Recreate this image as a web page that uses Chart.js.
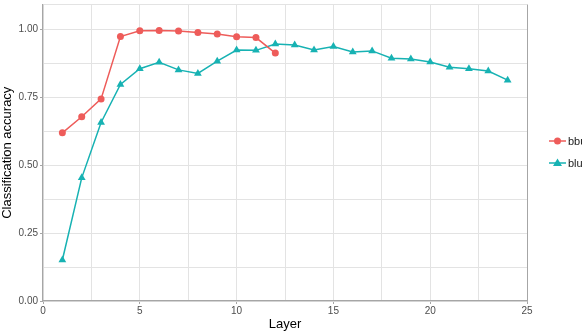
<!DOCTYPE html>
<html>
<head>
<meta charset="utf-8">
<script src="https://cdn.jsdelivr.net/npm/chart.js@4"></script>
<style>
  html, body { margin: 0; padding: 0; background: #fff; overflow: hidden; }
  #wrap { width: 582px; height: 332px; position: relative; }
</style>
</head>
<body>
<div id="wrap"><canvas id="myChart" width="582" height="332"></canvas></div>
<script>
const seriesNames = ['bbu', 'blu'];
const bbuLayers = [1, 2, 3, 4, 5, 6, 7, 8, 9, 10, 11, 12];
const bbuAcc = [0.620, 0.679, 0.745, 0.975, 0.996, 0.997, 0.995, 0.990, 0.984, 0.974, 0.971, 0.914];
const bluLayers = [1, 2, 3, 4, 5, 6, 7, 8, 9, 10, 11, 12, 13, 14, 15, 16, 17, 18, 19, 20, 21, 22, 23, 24];
const bluAcc = [0.151, 0.454, 0.658, 0.798, 0.856, 0.880, 0.852, 0.839, 0.884, 0.925, 0.924, 0.947,
                0.944, 0.925, 0.938, 0.918, 0.922, 0.895, 0.892, 0.881, 0.862, 0.856, 0.848, 0.814];
const xTickLabels = ['0', '5', '10', '15', '20', '25'];
const yTickLabels = ['0.00', '0.25', '0.50', '0.75', '1.00'];

const red = '#EE5C5A';
const teal = '#17B2B3';
const axisGray = '#a6a6a6';
const gridGray = '#e3e3e3';
const font = 'Liberation Sans, Arial, sans-serif';
const yMax = 1.093;

function toPoints(xs, ys) {
    return xs.map((x, i) => ({ x: x, y: ys[i] }));
}

// ggplot style legend on the right, line + marker + label
const sideLegend = {
    id: 'sideLegend',
    afterDraw(chart) {
        const c = chart.ctx;
        const items = [
            { name: seriesNames[0], color: red, style: 'circle', y: 141 },
            { name: seriesNames[1], color: teal, style: 'triangle', y: 163 }
        ];
        c.save();
        items.forEach(it => {
            c.strokeStyle = it.color;
            c.lineWidth = 1.5;
            c.beginPath();
            c.moveTo(549, it.y);
            c.lineTo(566, it.y);
            c.stroke();
            c.fillStyle = it.color;
            c.beginPath();
            if (it.style === 'circle') {
                c.arc(557.5, it.y, 3.5, 0, Math.PI * 2);
            } else {
                c.moveTo(557.5, it.y - 4.5);
                c.lineTo(562, it.y + 3);
                c.lineTo(553, it.y + 3);
                c.closePath();
            }
            c.fill();
            c.fillStyle = '#1a1a1a';
            c.font = '11px ' + font;
            c.textBaseline = 'middle';
            c.textAlign = 'left';
            c.fillText(it.name, 568, it.y + 0.5);
        });
        c.restore();
    }
};

const ctx = document.getElementById('myChart');
new Chart(ctx, {
    type: 'line',
    data: {
        datasets: [{
            label: seriesNames[0],
            data: toPoints(bbuLayers, bbuAcc),
            borderColor: red,
            backgroundColor: red,
            borderWidth: 1.5,
            pointStyle: 'circle',
            pointRadius: 3.5,
            pointBorderWidth: 0
        }, {
            label: seriesNames[1],
            data: toPoints(bluLayers, bluAcc),
            borderColor: teal,
            backgroundColor: teal,
            borderWidth: 1.5,
            pointStyle: 'triangle',
            pointRadius: 4.5,
            pointBorderWidth: 0
        }]
    },
    options: {
        responsive: false,
        animation: false,
        devicePixelRatio: 1,
        layout: { padding: { top: 0, right: 55, left: 0, bottom: 0 } },
        plugins: {
            legend: { display: false },
            tooltip: { enabled: false }
        },
        scales: {
            x: {
                type: 'linear',
                min: 0,
                max: 25,
                afterFit(scale) { scale.height = 31; },
                afterBuildTicks(scale) {
                    const t = [];
                    for (let v = 0; v <= 25; v += 2.5) t.push({ value: v });
                    scale.ticks = t;
                },
                ticks: {
                    color: '#4d4d4d',
                    font: { family: font, size: 10 },
                    padding: 1,
                    maxRotation: 0,
                    autoSkip: false,
                    callback: (v) => (v % 5 === 0 ? xTickLabels[v / 5] : '')
                },
                grid: {
                    color: (c) => (c.tick && c.tick.value === 25 ? axisGray : gridGray),
                    tickColor: (c) => (c.tick && c.tick.value % 5 === 0 ? axisGray : 'rgba(0,0,0,0)'),
                    tickLength: 3,
                    lineWidth: 1
                },
                border: { color: axisGray, width: 1.2 },
                title: {
                    display: true,
                    text: 'Layer',
                    color: '#000',
                    font: { family: font, size: 13 },
                    padding: { top: 1, bottom: 0 }
                }
            },
            y: {
                type: 'linear',
                min: 0,
                max: yMax,
                afterFit(scale) {
                    scale.width = 43;
                    scale.paddingTop = 0;
                    scale.paddingBottom = 0;
                },
                afterBuildTicks(scale) {
                    const t = [];
                    for (let v = 0; v <= 1.0001; v += 0.125) t.push({ value: Math.round(v * 1000) / 1000 });
                    t.push({ value: yMax });
                    scale.ticks = t;
                },
                ticks: {
                    color: '#4d4d4d',
                    font: { family: font, size: 10 },
                    padding: 2,
                    autoSkip: false,
                    callback: (v) => {
                        const k = Math.round(v * 4);
                        return Math.abs(v * 4 - k) < 1e-6 && k <= 4 ? yTickLabels[k] : '';
                    }
                },
                grid: {
                    color: gridGray,
                    tickColor: (c) => {
                        const v = c.tick ? c.tick.value : 0;
                        return Math.abs(v * 4 - Math.round(v * 4)) < 1e-6 && v <= 1 ? axisGray : 'rgba(0,0,0,0)';
                    },
                    tickLength: 3,
                    lineWidth: 1
                },
                border: { color: axisGray, width: 1.2 },
                title: {
                    display: true,
                    text: 'Classification accuracy',
                    color: '#000',
                    font: { family: font, size: 13 },
                    padding: { top: 0, bottom: 0 }
                }
            }
        }
    },
    plugins: [sideLegend]
});
</script>
</body>
</html>
